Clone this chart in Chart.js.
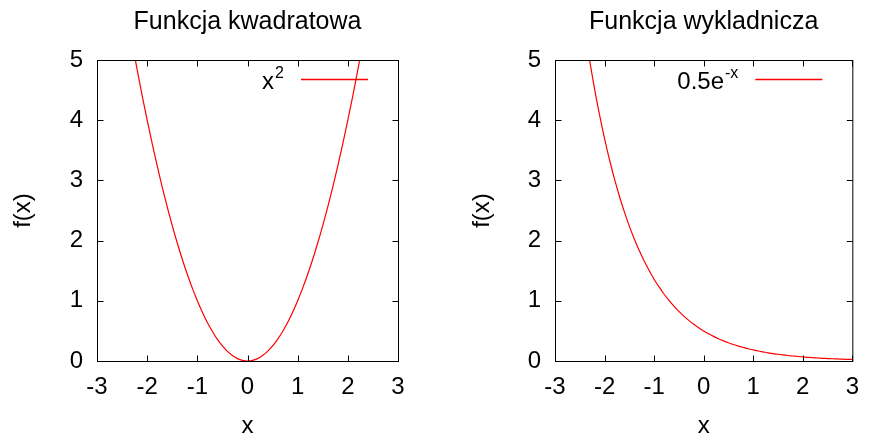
<!DOCTYPE html>
<html>
<head>
<meta charset="utf-8">
<script src="https://cdn.jsdelivr.net/npm/chart.js@4.4.1/dist/chart.umd.min.js"></script>
<style>
  html, body { margin: 0; padding: 0; background: #fff; }
  #wrap { position: relative; width: 871px; height: 439px; }
  canvas { position: absolute; top: 0; }
  #c1 { left: 0; }
  #c2 { left: 440px; }
</style>
</head>
<body>
<div id="wrap">
  <canvas id="c1" width="440" height="439"></canvas>
  <canvas id="c2" width="431" height="439"></canvas>
</div>
<script>
// wykres 1: x^2
const xKwadrat = [-2.3, -2.2, -2.1, -2.0, -1.9, -1.8, -1.7, -1.6, -1.5, -1.4, -1.3, -1.2, -1.1, -1.0,
  -0.9, -0.8, -0.7, -0.6, -0.5, -0.4, -0.3, -0.2, -0.1, 0.0, 0.1, 0.2, 0.3, 0.4, 0.5, 0.6, 0.7,
  0.8, 0.9, 1.0, 1.1, 1.2, 1.3, 1.4, 1.5, 1.6, 1.7, 1.8, 1.9, 2.0, 2.1, 2.2, 2.3];
const yKwadrat = [5.29, 4.84, 4.41, 4.00, 3.61, 3.24, 2.89, 2.56, 2.25, 1.96, 1.69, 1.44, 1.21, 1.00,
  0.81, 0.64, 0.49, 0.36, 0.25, 0.16, 0.09, 0.04, 0.01, 0.00, 0.01, 0.04, 0.09, 0.16, 0.25, 0.36, 0.49,
  0.64, 0.81, 1.00, 1.21, 1.44, 1.69, 1.96, 2.25, 2.56, 2.89, 3.24, 3.61, 4.00, 4.41, 4.84, 5.29];

// wykres 2: 0.5e^-x
const xWykl = [-2.4, -2.3, -2.2, -2.1, -2.0, -1.9, -1.8, -1.7, -1.6, -1.5, -1.4, -1.3, -1.2, -1.1, -1.0,
  -0.9, -0.8, -0.7, -0.6, -0.5, -0.4, -0.3, -0.2, -0.1, 0.0, 0.1, 0.2, 0.3, 0.4, 0.5, 0.6, 0.7,
  0.8, 0.9, 1.0, 1.1, 1.2, 1.3, 1.4, 1.5, 1.6, 1.7, 1.8, 1.9, 2.0, 2.1, 2.2, 2.3, 2.4, 2.5, 2.6,
  2.7, 2.8, 2.9, 3.0];
const yWykl = [5.512, 4.987, 4.513, 4.083, 3.695, 3.343, 3.025, 2.737, 2.477, 2.241, 2.028, 1.835, 1.660, 1.502, 1.359,
  1.230, 1.113, 1.007, 0.911, 0.824, 0.746, 0.675, 0.611, 0.553, 0.500, 0.452, 0.409, 0.370, 0.335, 0.303, 0.274, 0.248,
  0.225, 0.203, 0.184, 0.166, 0.151, 0.136, 0.123, 0.112, 0.101, 0.091, 0.083, 0.075, 0.068, 0.061, 0.055, 0.050, 0.045, 0.041, 0.037,
  0.034, 0.030, 0.027, 0.025];

const tytuly = ['Funkcja kwadratowa', 'Funkcja wykladnicza'];
const legendaBaza = ['x', '0.5e'];
const legendaPotega = ['2', '-x'];
const xTicks = [-3, -2, -1, 0, 1, 2, 3];
const yTicks = [0, 1, 2, 3, 4, 5];

const FONT = "'Liberation Sans', Arial, sans-serif";
Chart.defaults.color = '#000';
Chart.defaults.font.family = FONT;

// ramka + znaczniki do srodka, jak w gnuplocie
const ramka = {
  id: 'ramka',
  afterDatasetsDraw(chart) {
    const {ctx, chartArea: a, scales} = chart;
    const L = a.left + 0.5, R = a.right + 0.5, T = a.top + 0.5, B = a.bottom + 0.5;
    ctx.save();
    ctx.strokeStyle = '#000';
    ctx.lineWidth = 1;
    ctx.beginPath();
    xTicks.forEach(v => {
      const px = Math.round(scales.x.getPixelForValue(v)) + 0.5;
      ctx.moveTo(px, B); ctx.lineTo(px, B - 6);
      ctx.moveTo(px, T); ctx.lineTo(px, T + 6);
    });
    yTicks.forEach(v => {
      const py = Math.round(scales.y.getPixelForValue(v)) + 0.5;
      ctx.moveTo(L, py); ctx.lineTo(L + 6, py);
      ctx.moveTo(R, py); ctx.lineTo(R - 6, py);
    });
    ctx.stroke();
    ctx.strokeRect(L, T, R - L, B - T);

    // legenda: tekst z wykladnikiem + probka linii
    const lg = chart.options.plugins.ramka;
    const koniec = a.right - 114;
    ctx.textAlign = 'left';
    ctx.textBaseline = 'alphabetic';
    ctx.font = '16px ' + FONT;
    const wSup = ctx.measureText(lg.sup).width;
    ctx.font = '24px ' + FONT;
    const wBase = ctx.measureText(lg.base).width;
    ctx.fillStyle = '#000';
    ctx.fillText(lg.base, koniec - wSup - wBase - 1, a.top + 29);
    ctx.font = '16px ' + FONT;
    ctx.fillText(lg.sup, koniec - wSup, a.top + 18);
    ctx.strokeStyle = '#ff0000';
    ctx.lineWidth = 1.3;
    ctx.beginPath();
    ctx.moveTo(a.right - 97, a.top + 19.5);
    ctx.lineTo(a.right - 30, a.top + 19.5);
    ctx.stroke();
    ctx.restore();
  }
};

function rysuj(id, i, xs, ys, szerY, padTytulY, padPrawy) {
  new Chart(document.getElementById(id), {
    type: 'line',
    data: {
      datasets: [{
        label: legendaBaza[i] + legendaPotega[i],
        data: xs.map((x, k) => ({x: x, y: ys[k]})),
        borderColor: '#ff0000',
        borderWidth: 1.2,
        pointRadius: 0,
        cubicInterpolationMode: 'monotone'
      }]
    },
    options: {
      responsive: false,
      animation: false,
      layout: { padding: { left: 0, right: padPrawy, top: 0, bottom: 0 } },
      plugins: {
        legend: { display: false },
        tooltip: { enabled: false },
        title: {
          display: true,
          text: tytuly[i],
          fullSize: false,
          color: '#000',
          font: { size: 25, weight: 'normal', family: FONT },
          padding: { top: 7.5, bottom: 22.5 }
        },
        ramka: { base: legendaBaza[i], sup: legendaPotega[i] }
      },
      scales: {
        x: {
          type: 'linear',
          min: -3, max: 3,
          afterBuildTicks: s => { s.ticks = xTicks.map(v => ({value: v})); },
          ticks: { padding: 12, font: { size: 24 } },
          grid: { display: false, drawTicks: false },
          border: { display: false },
          title: { display: true, text: 'x', font: { size: 24 }, padding: { top: 0, bottom: -2 } },
          afterFit: s => { s.height = 78; }
        },
        y: {
          type: 'linear',
          min: 0, max: 5,
          afterBuildTicks: s => { s.ticks = yTicks.map(v => ({value: v})); },
          ticks: { padding: 14, font: { size: 24 } },
          grid: { display: false, drawTicks: false },
          border: { display: false },
          title: { display: true, text: 'f(x)', font: { size: 24 }, padding: { top: padTytulY, bottom: 0 } },
          afterFit: s => { s.width = szerY; }
        }
      }
    },
    plugins: [ramka]
  });
}

rysuj('c1', 0, xKwadrat, yKwadrat, 97, 8.6, 42);
rysuj('c2', 1, xWykl, yWykl, 115, 28, 14);
</script>
</body>
</html>
